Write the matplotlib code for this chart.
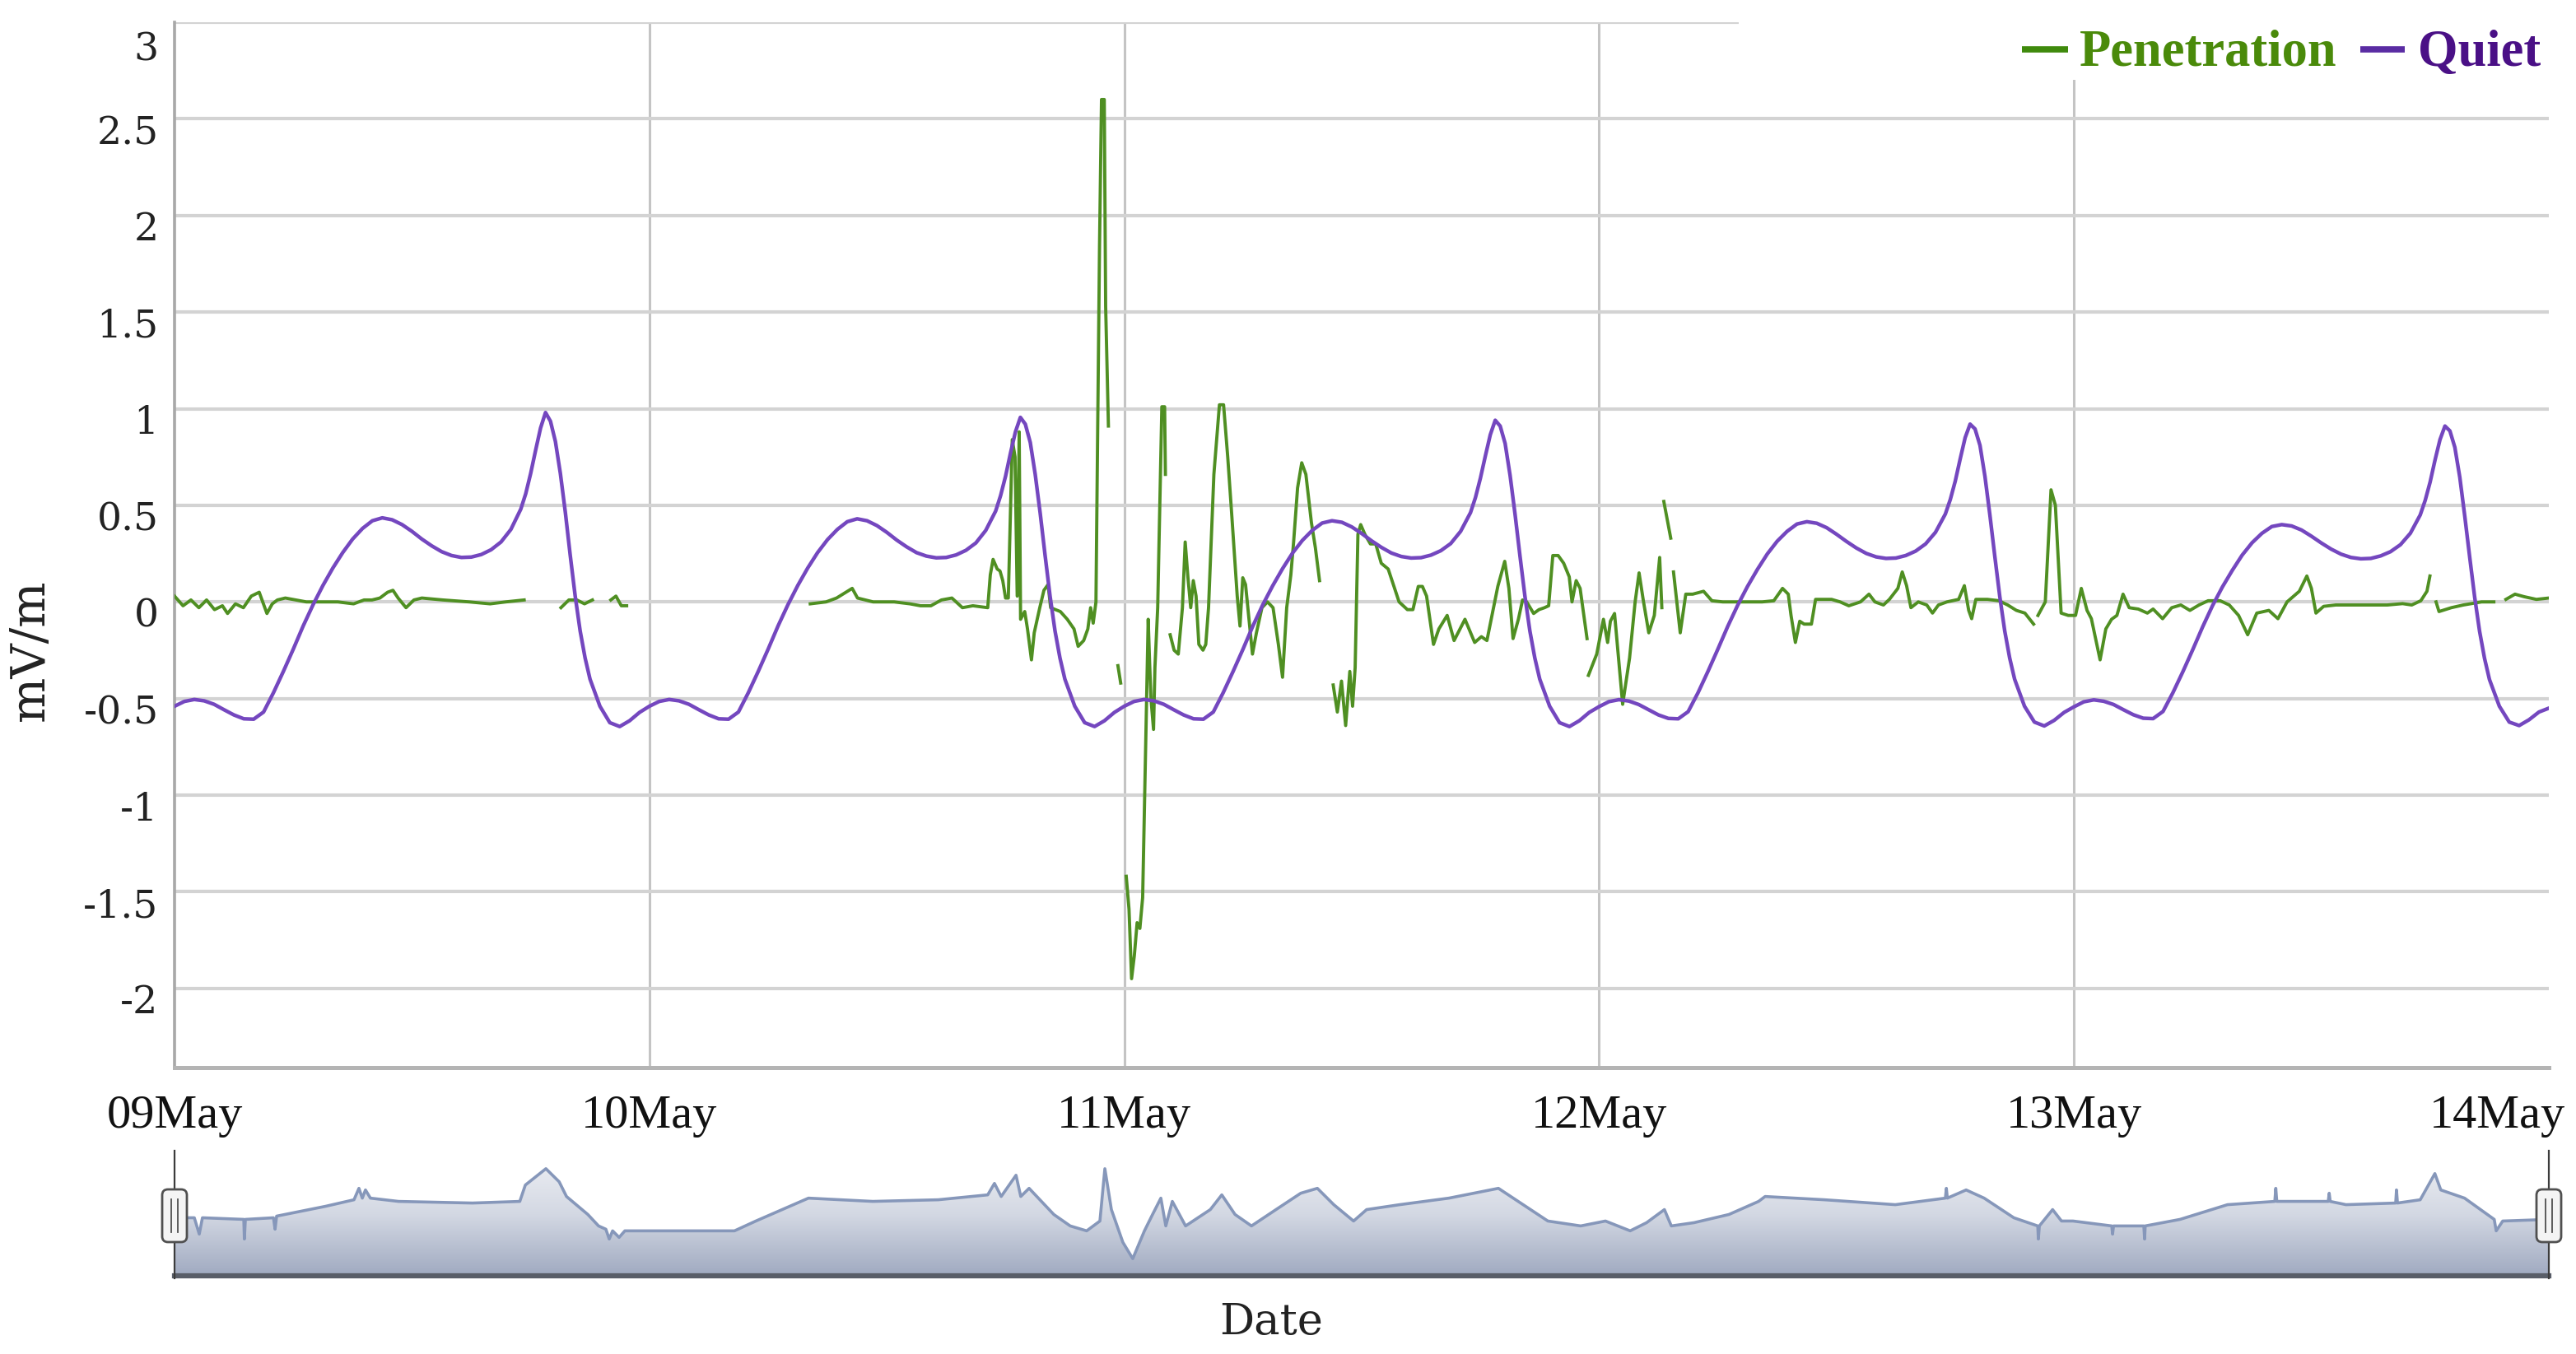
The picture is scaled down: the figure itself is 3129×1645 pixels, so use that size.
import numpy as np
import matplotlib
matplotlib.use("Agg")
import matplotlib.pyplot as plt
from matplotlib.patches import Rectangle, FancyBboxPatch, Polygon
from matplotlib.lines import Line2D
from matplotlib.transforms import ScaledTranslation
from matplotlib.colors import LinearSegmentedColormap

nan = np.nan

# ---- data: x in hours from 09May 00:00, y in mV/m ----
day_ticks = [0, 24, 48, 72, 96, 120]
day_labels = ["09May", "10May", "11May", "12May", "13May", "14May"]
y_ticks = [-2, -1.5, -1, -0.5, 0, 0.5, 1, 1.5, 2, 2.5, 3]
y_labels = ["-2", "-1.5", "-1", "-0.5", "0", "0.5", "1", "1.5", "2", "2.5", "3"]

# Quiet: same sample hours each day
quiet_hour_of_day = [0, 0.5, 1.0, 1.5, 2.0, 2.5, 3.0, 3.5, 4.0, 4.5, 5.0, 5.5, 6.0, 6.5, 7.0,
                     7.5, 8.0, 8.5, 9.0, 9.5, 10.0, 10.5, 11.0, 11.5, 12.0, 12.5, 13.0, 13.5,
                     14.0, 14.5, 15.0, 15.5, 16.0, 16.5, 17.0, 17.5, 17.75, 18.0, 18.25, 18.5,
                     18.75, 19.0, 19.25, 19.5, 19.75, 20.0, 20.25, 20.5, 20.75, 21.0, 21.5, 22.0,
                     22.5, 23.0, 23.5]
quiet_day1 = [-0.540, -0.515, -0.505, -0.512, -0.530, -0.558, -0.585, -0.605, -0.607, -0.570,
              -0.470, -0.360, -0.245, -0.125, -0.015, 0.085, 0.175, 0.255, 0.325, 0.380,
              0.420, 0.435, 0.425, 0.400, 0.365, 0.325, 0.290, 0.260, 0.240, 0.230,
              0.232, 0.245, 0.270, 0.310, 0.375, 0.480, 0.560, 0.665, 0.785, 0.900,
              0.980, 0.935, 0.830, 0.665, 0.465, 0.240, 0.030, -0.150, -0.290, -0.400,
              -0.540, -0.625, -0.645, -0.615, -0.572]
quiet_day2 = [-0.540, -0.515, -0.505, -0.512, -0.530, -0.558, -0.585, -0.605, -0.607, -0.570,
              -0.470, -0.360, -0.245, -0.125, -0.015, 0.085, 0.175, 0.255, 0.322, 0.375,
              0.415, 0.430, 0.420, 0.395, 0.360, 0.320, 0.285, 0.255, 0.237, 0.228,
              0.230, 0.243, 0.267, 0.305, 0.370, 0.470, 0.550, 0.650, 0.770, 0.880,
              0.955, 0.920, 0.825, 0.660, 0.460, 0.240, 0.030, -0.150, -0.290, -0.400,
              -0.540, -0.625, -0.645, -0.615, -0.572]
quiet_day3 = [-0.540, -0.515, -0.505, -0.512, -0.530, -0.558, -0.585, -0.605, -0.607, -0.570,
              -0.470, -0.360, -0.245, -0.125, -0.015, 0.083, 0.172, 0.252, 0.318, 0.370,
              0.408, 0.420, 0.412, 0.388, 0.354, 0.316, 0.282, 0.253, 0.235, 0.227,
              0.229, 0.242, 0.265, 0.302, 0.365, 0.462, 0.540, 0.640, 0.755, 0.865,
              0.940, 0.910, 0.820, 0.655, 0.455, 0.238, 0.030, -0.150, -0.290, -0.400,
              -0.540, -0.625, -0.645, -0.615, -0.572]
quiet_day4 = [-0.542, -0.516, -0.506, -0.513, -0.531, -0.558, -0.585, -0.603, -0.605, -0.568,
              -0.470, -0.360, -0.245, -0.127, -0.018, 0.080, 0.168, 0.248, 0.314, 0.365,
              0.403, 0.415, 0.407, 0.384, 0.350, 0.313, 0.279, 0.251, 0.233, 0.225,
              0.227, 0.240, 0.263, 0.300, 0.360, 0.455, 0.530, 0.625, 0.740, 0.850,
              0.920, 0.895, 0.810, 0.650, 0.450, 0.235, 0.028, -0.150, -0.290, -0.400,
              -0.540, -0.622, -0.642, -0.613, -0.572]
quiet_day5 = [-0.543, -0.517, -0.507, -0.514, -0.531, -0.558, -0.584, -0.602, -0.604, -0.567,
              -0.470, -0.362, -0.248, -0.130, -0.020, 0.077, 0.163, 0.242, 0.306, 0.355,
              0.390, 0.400, 0.393, 0.372, 0.340, 0.305, 0.273, 0.247, 0.230, 0.223,
              0.225, 0.238, 0.260, 0.296, 0.355, 0.450, 0.525, 0.620, 0.735, 0.840,
              0.910, 0.885, 0.800, 0.645, 0.445, 0.232, 0.026, -0.152, -0.292, -0.402,
              -0.540, -0.622, -0.640, -0.610, -0.570]
quiet_end = (120.0, -0.55)

# Penetration (NaN = gap in the record)
pen_hours = [
    0.0, 0.43, 0.83, 1.23, 1.62, 2.02, 2.42, 2.68, 3.08, 3.48, 3.88, 4.28, 4.67, 4.94, 5.2, 5.6,
    6.13, 6.66, 7.46, 8.25, 9.05, 9.58, 9.98, 10.38, 10.77, 11.04, 11.3, 11.7, 12.1, 12.5, 13.56,
    14.89, 15.95, 16.74, 17.67, nan,
    19.53, 19.93, 20.33, 20.72, 21.12, nan,
    22.05, 22.31, 22.58, 22.85, nan,
    32.13, 32.93, 33.46, 34.25, 34.52, 35.31, 36.37, 37.17, 37.7, 38.23, 38.76, 39.29, 39.82,
    40.35, 41.1, 41.23, 41.37, 41.58, 41.72, 41.86, 42.0, 42.14, 42.34, 42.48, 42.59, 42.69,
    42.76, 42.97, 43.11, 43.31, 43.45, 43.73, 43.94, 44.15, 44.28, 44.77, 45.12, 45.46, 45.67,
    45.95, 46.16, 46.3, 46.43, 46.57, 46.75, 46.85, 46.99, 47.06, 47.2, nan,
    47.68, 47.82, nan,
    48.1, 48.24, 48.37, 48.51, 48.65, 48.79, 48.93, 49.07, 49.21, 49.28, 49.35, 49.48, 49.55,
    49.69, 49.9, 50.04, 50.08, nan,
    50.32, 50.52, 50.73, 50.94, 51.08, 51.22, 51.36, 51.49, 51.63, 51.77, 51.98, 52.12, 52.26,
    52.53, 52.81, 53.02, 53.23, 53.44, 53.71, 53.85, 53.99, 54.13, 54.34, 54.48, 54.68, 54.96,
    55.24, 55.52, 55.79, 56.0, 56.21, 56.42, 56.56, 56.76, 56.97, 57.18, 57.46, 57.66, 57.87, nan,
    58.56, 58.77, 58.98, 59.19, 59.4, 59.54, 59.67, 59.81, 59.95, 60.16, 60.44, 60.71, 60.99,
    61.34, 61.89, 62.31, 62.59, 62.86, 63.07, 63.28, 63.42, 63.63, 63.9, 64.32, 64.67, 65.22,
    65.71, 66.05, 66.33, 66.88, 67.23, 67.44, 67.65, 67.92, 68.13, 68.34, 68.69, 68.96, 69.24,
    69.45, 69.66, 69.93, 70.21, 70.49, 70.63, 70.84, 71.04, 71.39, nan,
    71.46, 71.88, 72.22, 72.43, 72.57, 72.78, 72.98, 73.19, 73.54, 73.82, 74.02, 74.23, 74.51,
    74.79, 75.06, 75.17, nan,
    75.27, 75.62, nan,
    75.76, 76.1, 76.38, 76.73, 77.28, 77.7, 78.25, 78.79, 79.37, 80.24, 80.83, 81.27, 81.56,
    81.7, 81.92, 82.14, 82.36, 82.73, 82.94, 83.31, 83.75, 84.18, 84.62, 85.21, 85.64, 85.94,
    86.37, 86.67, 87.1, 87.32, 87.54, 87.76, 88.13, 88.56, 88.85, 89.15, 89.58, 90.17, 90.46,
    90.68, 90.83, 91.04, 91.63, 92.21, 92.65, 93.09, 93.52, 93.96, nan,
    94.18, 94.55, 94.84, 95.06, 95.35, 95.71, 96.08, 96.37, 96.66, 96.88, 97.32, 97.61, 97.9,
    98.17, 98.48, 98.79, 99.25, 99.71, 100.0, 100.48, 100.94, 101.4, 101.86, 102.32, 102.78,
    103.39, 103.85, 104.32, 104.78, 105.24, 105.85, 106.31, 106.77, 107.39, 107.77, 108.0,
    108.23, 108.62, 109.23, 110.0, 111.07, 111.84, 112.61, 113.07, 113.53, 113.84, 113.99, nan,
    114.3, 114.45, 115.07, 115.68, 116.6, 117.22, nan,
    117.83, 118.29, 118.75, 119.37, 120.0,
]
pen_vals = [
    0.03, -0.02, 0.01, -0.03, 0.01, -0.04, -0.02, -0.06, -0.01, -0.03, 0.03, 0.05, -0.06, -0.01,
    0.01, 0.02, 0.01, 0.0, 0.0, 0.0, -0.01, 0.01, 0.01, 0.02, 0.05, 0.06, 0.02, -0.03, 0.01, 0.02,
    0.01, 0.0, -0.01, 0.0, 0.01, nan,
    -0.03, 0.01, 0.01, -0.01, 0.01, nan,
    0.01, 0.03, -0.02, -0.02, nan,
    -0.01, 0.0, 0.02, 0.07, 0.02, 0.0, 0.0, -0.01, -0.02, -0.02, 0.01, 0.02, -0.03,
    -0.02, -0.03, 0.14, 0.22, 0.17, 0.16, 0.11, 0.02, 0.02, 0.84, 0.75, 0.03, 0.88,
    -0.09, -0.05, -0.14, -0.30, -0.16, -0.03, 0.06, 0.09, -0.03, -0.05, -0.09, -0.14, -0.23,
    -0.20, -0.14, -0.03, -0.11, 0.0, 1.84, 2.60, 2.60, 1.53, 0.91, nan,
    -0.33, -0.42, nan,
    -1.42, -1.59, -1.95, -1.83, -1.66, -1.69, -1.53, -0.81, -0.09, -0.31, -0.50, -0.66, -0.34,
    -0.03, 1.01, 1.01, 0.66, nan,
    -0.17, -0.25, -0.27, -0.03, 0.31, 0.125, -0.03, 0.11, 0.03, -0.22, -0.25, -0.22, -0.03,
    0.66, 1.02, 1.02, 0.75, 0.44, 0.03, -0.125, 0.125, 0.09, -0.125, -0.27, -0.16, -0.03,
    0.0, -0.03, -0.22, -0.39, -0.03, 0.14, 0.31, 0.59, 0.72, 0.66, 0.41, 0.28, 0.11, nan,
    -0.43, -0.57, -0.41, -0.64, -0.36, -0.54, -0.34, 0.35, 0.40, 0.35, 0.30, 0.30, 0.20,
    0.17, 0.0, -0.04, -0.04, 0.08, 0.08, 0.03, -0.07, -0.22, -0.14, -0.07, -0.20, -0.09,
    -0.21, -0.18, -0.20, 0.08, 0.21, 0.07, -0.19, -0.09, 0.01, 0.0, -0.06, -0.04, -0.03,
    -0.02, 0.24, 0.24, 0.20, 0.13, 0.0, 0.11, 0.07, -0.19, nan,
    -0.38, -0.27, -0.09, -0.21, -0.10, -0.06, -0.29, -0.53, -0.29, 0.0, 0.15, 0.01, -0.16,
    -0.07, 0.23, -0.03, nan,
    0.52, 0.33, nan,
    0.155, -0.16, 0.04, 0.04, 0.055, 0.006, 0.0, 0.0, 0.0, 0.0, 0.006, 0.07, 0.04,
    -0.07, -0.21, -0.10, -0.115, -0.115, 0.013, 0.013, 0.013, 0.0, -0.02, 0.0, 0.04, 0.0,
    -0.016, 0.013, 0.07, 0.155, 0.084, -0.03, 0.0, -0.016, -0.058, -0.016, 0.0, 0.013, 0.084,
    -0.044, -0.087, 0.013, 0.013, 0.006, -0.016, -0.044, -0.058, -0.115, nan,
    -0.07, 0.0, 0.58, 0.50, -0.058, -0.07, -0.07, 0.07, -0.044, -0.087, -0.30, -0.14, -0.09,
    -0.07, 0.04, -0.03, -0.037, -0.058, -0.037, -0.087, -0.03, -0.016, -0.044, -0.016, 0.006,
    0.006, -0.016, -0.07, -0.17, -0.058, -0.044, -0.087, 0.0, 0.055, 0.134, 0.07,
    -0.058, -0.023, -0.016, -0.016, -0.016, -0.016, -0.009, -0.016, 0.006, 0.055, 0.134, nan,
    0.0, -0.05, -0.03, -0.016, 0.0, 0.0, nan,
    0.013, 0.04, 0.027, 0.013, 0.02,
]

# navigator (range selector) overview series
nav_hours = [0, 1.0, 1.25, 1.41, 3.5, 3.53, 3.58, 5.0, 5.08, 5.16, 7.63, 9.07, 9.32, 9.49, 9.65,
             9.9, 11.32, 15.06, 17.45, 17.73, 18.77, 19.44, 19.81, 20.89, 21.43, 21.8, 21.97,
             22.14, 22.47, 22.76, 25.67, 28.3, 29.38, 32.04, 35.29, 38.6, 41.1, 41.44, 41.78,
             42.53, 42.77, 43.19, 44.44, 45.27, 46.1, 46.77, 47.02, 47.35, 47.93, 48.43, 49.02,
             49.43, 49.85, 50.1, 50.43, 51.1, 52.35, 52.93, 53.6, 54.43, 55.67, 56.92, 57.76,
             58.59, 59.59, 60.25, 61.92, 64.41, 66.08, 66.91, 68.16, 69.41, 71.07, 72.32, 73.57,
             74.4, 75.3, 75.65, 76.8, 78.56, 80.06, 80.39, 83.39, 86.97, 89.5, 89.55, 89.6,
             90.55, 91.46, 92.96, 94.17, 94.2, 94.25, 94.92, 95.37, 95.95, 97.91, 97.95, 98.0,
             99.53, 99.57, 99.6, 101.36, 103.76, 106.15, 106.2, 106.25, 108.85, 108.9, 108.95,
             109.75, 112.26, 112.3, 112.35, 113.5, 114.24, 114.54, 115.74, 117.24, 117.34,
             117.67, 120.0]
nav_vals = [-0.5, -0.5, -1.0, -0.5, -0.55, -1.15, -0.55, -0.5, -0.85, -0.45, -0.15, 0.05, 0.4,
            0.1, 0.35, 0.1, 0.0, -0.05, 0.0, 0.5, 1.0, 0.6, 0.15, -0.4, -0.75, -0.85, -1.15,
            -0.9, -1.1, -0.9, -0.9, -0.9, -0.6, 0.1, 0.0, 0.05, 0.2, 0.55, 0.15, 0.8, 0.15, 0.4,
            -0.4, -0.75, -0.9, -0.6, 1.0, -0.25, -1.25, -1.75, -0.9, -0.4, 0.1, -0.75, 0.0,
            -0.75, -0.25, 0.2, -0.4, -0.75, -0.25, 0.25, 0.4, -0.1, -0.6, -0.25, -0.1, 0.1, 0.3,
            0.4, -0.1, -0.6, -0.75, -0.6, -0.9, -0.65, -0.25, -0.75, -0.65, -0.4, 0.0, 0.15,
            0.05, -0.1, 0.1, 0.4, 0.1, 0.35, 0.1, -0.5, -0.75, -1.15, -0.75, -0.25, -0.6, -0.6,
            -0.75, -1.0, -0.75, -0.75, -1.15, -0.75, -0.55, -0.1, 0.0, 0.4, 0.0, 0.0, 0.25, 0.0,
            -0.1, -0.05, 0.35, -0.05, 0.05, 0.85, 0.35, 0.1, -0.55, -0.9, -0.6, -0.55]

GREEN = "#4f8f22"
PURPLE = "#7447bf"

quiet_hours = [d * 24 + h for d in range(5) for h in quiet_hour_of_day] + [quiet_end[0]]
quiet_vals = quiet_day1 + quiet_day2 + quiet_day3 + quiet_day4 + quiet_day5 + [quiet_end[1]]

# ---- figure (pixel layout helpers) ----
W, H, DPI = 3129, 1645, 100
fig = plt.figure(figsize=(W / DPI, H / DPI), dpi=DPI)


def fx(px):
    return px / W


def fy(py):
    return 1 - py / H


L, R, T, B = 212, 3096, 27, 1297
ax = fig.add_axes([fx(L), fy(B), (R - L) / W, (B - T) / H])

ax.plot(pen_hours, pen_vals, color=GREEN, lw=2.8, solid_joinstyle="round", zorder=3)
ax.plot(quiet_hours, quiet_vals, color=PURPLE, lw=3.2, solid_joinstyle="round", zorder=4)

ax.set_xlim(0, 120)
ax.set_ylim(-2.41, 3.0)
ax.set_xticks(day_ticks)
ax.set_xticklabels(day_labels, fontfamily="Liberation Serif", fontsize=42, color="#111111")
ax.set_yticks(y_ticks)
ax.set_yticklabels(y_labels, fontfamily="DejaVu Serif", fontsize=34, color="#222222")
ax.tick_params(length=0)
ax.tick_params(axis="x", pad=24)
ax.tick_params(axis="y", pad=14)
ax.grid(axis="y", color="#d3d3d3", lw=3.0, zorder=0)
for h in day_ticks[1:-1]:
    ax.axvline(h, color="#c4c4c4", lw=2.2, zorder=0)
ax.set_axisbelow(True)
for s in ["top", "right"]:
    ax.spines[s].set_visible(False)
ax.spines["left"].set_color("#a8a8a8")
ax.spines["left"].set_linewidth(2.6)
ax.spines["bottom"].set_color("#b4b4b4")
ax.spines["bottom"].set_linewidth(3.6)

# shift y labels a little below their gridlines, like the original
for lab in ax.get_yticklabels():
    dy = -29 if lab.get_text() == "3" else -13
    lab.set_transform(lab.get_transform() + ScaledTranslation(0, dy / DPI, fig.dpi_scale_trans))
last = ax.get_xticklabels()[-1]
last.set_horizontalalignment("right")
last.set_transform(last.get_transform() + ScaledTranslation(20 / DPI, 0, fig.dpi_scale_trans))

fig.text(fx(37), fy(790), "mV/m", rotation=90, ha="center", va="center",
         fontfamily="DejaVu Serif", fontsize=42, color="#222222")
fig.text(fx(1544), fy(1606), "Date", ha="center", va="center",
         fontfamily="DejaVu Serif", fontsize=38, color="#222222")

# ---- navigator ----
NT, NB = 1398, 1553
nav = fig.add_axes([fx(L), fy(NB), (R - L) / W, (NB - NT) / H])
nav.set_xlim(0, 120)
nav_lo, nav_hi = -2.35, 1.55
nav.set_ylim(nav_lo, nav_hi)
nav.axis("off")
verts = list(zip(nav_hours, nav_vals)) + [(120, nav_lo), (0, nav_lo)]
area = Polygon(verts, closed=True, facecolor="none", edgecolor="none")
nav.add_patch(area)
cmap = LinearSegmentedColormap.from_list("nav", ["#f0f1f5", "#d3d8e3", "#9ea8bf"])
im = nav.imshow(np.linspace(0, 1, 256).reshape(-1, 1), extent=[0, 120, nav_lo, nav_hi],
                cmap=cmap, aspect="auto", origin="upper", zorder=1)
im.set_clip_path(area)
nav.plot(nav_hours, nav_vals, color="#8697ba", lw=2.6, solid_joinstyle="round", zorder=2)

fig.add_artist(Line2D([fx(L), fx(R)], [fy(1550), fy(1550)], transform=fig.transFigure,
                      color="#595e68", lw=4.5, zorder=5))
for cx in (L, R):
    fig.add_artist(Line2D([fx(cx), fx(cx)], [fy(NT), fy(NB)], transform=fig.transFigure,
                          color="#3c3c3c", lw=1.6, zorder=5))
    hw, hh, cy = 30, 64, 1477
    box = FancyBboxPatch(((cx - hw / 2) / DPI, (H - cy - hh / 2) / DPI), hw / DPI, hh / DPI,
                         boxstyle="round,pad=0,rounding_size=0.07", transform=fig.dpi_scale_trans,
                         facecolor="#f4f4f4", edgecolor="#505050", lw=2.0, zorder=6)
    fig.add_artist(box)
    for dx in (-4, 4):
        fig.add_artist(Line2D([(cx + dx) / DPI] * 2, [(H - cy + 20) / DPI, (H - cy - 20) / DPI],
                              transform=fig.dpi_scale_trans, color="#505050", lw=1.3, zorder=7))

# ---- legend (top right, white box over the gridlines) ----
fig.add_artist(Rectangle((fx(2112), fy(97)), 1 - fx(2112), 97 / H, transform=fig.transFigure,
                         facecolor="white", edgecolor="none", zorder=4))
fig.add_artist(Line2D([fx(2456), fx(2512)], [fy(60), fy(60)], transform=fig.transFigure,
                      color="#3f8a0c", lw=5.5, solid_capstyle="butt", zorder=5))
fig.text(fx(2526), fy(80), "Penetration", fontfamily="Liberation Serif", fontweight="bold",
         fontsize=45, color="#4a8a0a", va="baseline", ha="left", zorder=5)
fig.add_artist(Line2D([fx(2867), fx(2921)], [fy(60), fy(60)], transform=fig.transFigure,
                      color="#5a2ca3", lw=5.5, solid_capstyle="butt", zorder=5))
fig.text(fx(2937), fy(80), "Quiet", fontfamily="Liberation Serif", fontweight="bold",
         fontsize=45, color="#4a1086", va="baseline", ha="left", zorder=5)

fig.savefig("out.png", dpi=DPI, facecolor="white")
